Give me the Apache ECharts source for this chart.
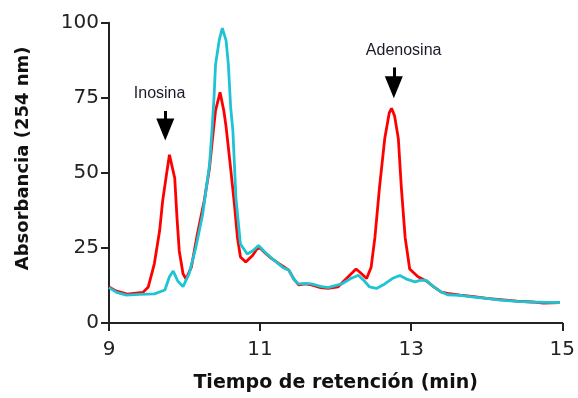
<!DOCTYPE html>
<html>
<head>
<meta charset="utf-8">
<script src="https://cdn.jsdelivr.net/npm/echarts@6/dist/echarts.min.js"></script>
<style>html,body{margin:0;padding:0;background:#fff}#c{width:578px;height:398px}</style>
</head>
<body>
<div id="c"></div>
<script>
// Red trace (with inosine/adenosine)
const redTime = [9.00,9.08,9.24,9.45,9.52,9.60,9.67,9.71,9.76,9.80,9.82,9.87,9.90,9.93,9.98,10.02,10.09,10.17,10.26,10.33,10.37,10.41,10.47,10.52,10.55,10.61,10.66,10.70,10.74,10.81,10.90,10.96,11.00,11.06,11.15,11.25,11.38,11.45,11.51,11.60,11.68,11.80,11.90,12.03,12.15,12.27,12.34,12.41,12.47,12.52,12.58,12.65,12.71,12.74,12.78,12.83,12.87,12.92,12.98,13.09,13.20,13.30,13.40,13.48,13.65,13.83,14.00,14.18,14.40,14.60,14.75,14.97];
const redAbs  = [12,10.8,9.6,10.2,12,19.7,30.7,40.6,49.3,56,56.5,48.3,35,24,16.4,14.6,18.6,29.6,40.6,51.5,61.4,70.7,76.8,70.7,65.3,51.5,39.5,28.5,22,20.3,22.5,24.7,25,23.5,21.5,19.8,17.6,14.5,12.7,13,12.7,11.8,11.5,12,15,18,16.5,14.8,18.6,28.5,45,61.4,70,71.5,69,61.4,45,28.5,18,15.4,14,12,10.3,9.9,9.3,8.8,8.2,7.8,7.3,7,6.6,6.8];
// Cyan trace
const cyanTime = [9.00,9.10,9.23,9.40,9.60,9.74,9.80,9.85,9.91,9.98,10.06,10.15,10.24,10.33,10.36,10.39,10.41,10.46,10.50,10.55,10.58,10.61,10.64,10.68,10.74,10.83,10.90,10.98,11.05,11.18,11.30,11.38,11.45,11.51,11.60,11.68,11.80,11.90,12.08,12.20,12.30,12.38,12.45,12.54,12.65,12.75,12.85,12.95,13.05,13.13,13.20,13.30,13.40,13.48,13.65,13.83,14.00,14.18,14.40,14.60,14.80,14.97];
const cyanAbs  = [11.8,10.2,9.3,9.5,9.7,11,15.4,17.3,14,12.1,16.4,25.2,36.2,52.6,63,75,86,94.3,98.2,94,86,72,64,41.7,26.3,23,24,25.8,24,21,18.5,17.6,14.5,13,13.2,13,12.2,11.8,13,14.8,15.9,14,12,11.5,13,14.8,15.8,14.5,13.7,14.3,14.2,12,10.3,9.4,9.2,8.6,8.2,7.6,7.2,7,6.9,6.8];
const xTicks = [9, 11, 13, 15];
const yTicks = [0, 25, 50, 75, 100];
const annotations = [
  {name: 'Inosina',   x: 9.745, labelX: 9.67,  labelY: 76.5, top: 70.6, head: 64.4},
  {name: 'Adenosina', x: 12.77, labelX: 12.90, labelY: 90.7, top: 85.1, head: 78.5}
];

const zip = (a, b) => a.map((t, i) => [t, b[i]]);
const chart = echarts.init(document.getElementById('c'), null, {renderer: 'canvas'});
const axisCol = '#222';
chart.setOption({
  animation: false,
  backgroundColor: '#fff',
  grid: {left: 109, top: 22.7, right: 12, bottom: 71.3, containLabel: false},
  xAxis: {
    type: 'value', min: xTicks[0], max: xTicks[xTicks.length - 1], interval: 2,
    name: 'Tiempo de retención (min)', nameLocation: 'middle', nameGap: 51,
    nameTextStyle: {fontFamily: 'DejaVu Sans', fontWeight: 'bold', fontSize: 19, color: '#111'},
    axisLine: {lineStyle: {color: axisCol, width: 2}},
    axisTick: {length: 8, lineStyle: {color: axisCol, width: 2}},
    axisLabel: {margin: 17, fontFamily: 'DejaVu Sans', fontSize: 20, color: '#222'},
    splitLine: {show: false}
  },
  yAxis: {
    type: 'value', min: yTicks[0], max: yTicks[yTicks.length - 1], interval: 25,
    name: 'Absorbancia (254 nm)', nameLocation: 'middle', nameGap: 77, nameRotate: 90,
    nameTextStyle: {fontFamily: 'DejaVu Sans', fontWeight: 'bold', fontSize: 18, color: '#111', padding: [0, 0, 0, 29]},
    axisLine: {show: true, lineStyle: {color: axisCol, width: 2}},
    axisTick: {show: true, length: 8, lineStyle: {color: axisCol, width: 2}},
    axisLabel: {margin: 10, fontFamily: 'DejaVu Sans', fontSize: 20, color: '#222'},
    splitLine: {show: false}
  },
  series: [
    {
      type: 'line', name: 'red', data: zip(redTime, redAbs), showSymbol: false, symbol: 'none',
      lineStyle: {color: '#ff0000', width: 2.8}, z: 2
    },
    {
      type: 'line', name: 'cyan', data: zip(cyanTime, cyanAbs), showSymbol: false, symbol: 'none',
      lineStyle: {color: '#1ec4d4', width: 2.8}, z: 3,
      markLine: {
        silent: true, symbol: ['none', 'none'], animation: false,
        lineStyle: {color: '#000', width: 3, type: 'solid'}, label: {show: false},
        data: annotations.map(a => [{coord: [a.x, a.top]}, {coord: [a.x, a.head]}])
      },
      markPoint: {
        silent: true, animation: false,
        data: annotations.flatMap(a => [
          {coord: [a.x, a.head], symbol: 'triangle', symbolRotate: 180, symbolSize: [18, 22],
           itemStyle: {color: '#000'}, label: {show: false}},
          {coord: [a.labelX, a.labelY], symbol: 'circle', symbolSize: 0,
           label: {show: true, position: 'inside', formatter: a.name, fontFamily: 'Liberation Sans', fontSize: 16, color: '#1a1a2a'}}
        ])
      }
    }
  ]
});
</script>
</body>
</html>
